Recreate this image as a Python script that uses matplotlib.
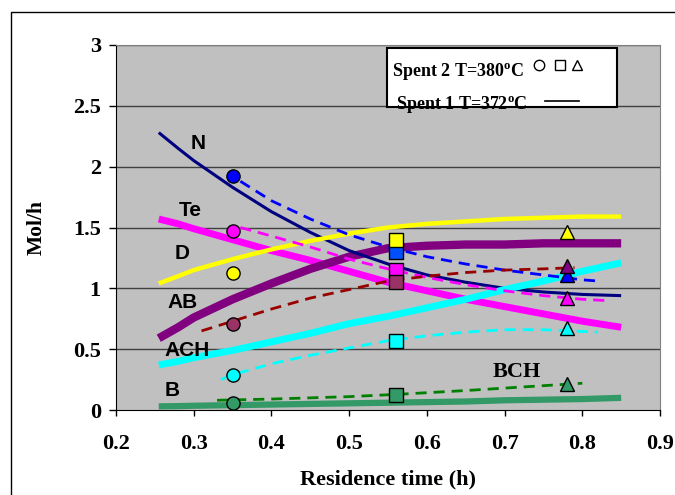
import matplotlib
matplotlib.use("Agg")
import matplotlib.pyplot as plt
from matplotlib.patches import Rectangle
import numpy as np

plt.rcParams['font.family'] = ['Liberation Serif', 'DejaVu Serif']
plt.rcParams['font.weight'] = 'bold'
plt.rcParams['mathtext.fontset'] = 'custom'
plt.rcParams['mathtext.rm'] = 'Liberation Serif'
plt.rcParams['mathtext.bf'] = 'Liberation Serif:bold'

# Spent 1 (T=372 C) model curves
t_fit = [0.255, 0.28, 0.3, 0.35, 0.4, 0.45, 0.5, 0.55, 0.6, 0.65, 0.7, 0.75, 0.8, 0.85]
N_fit = [2.28, 2.15, 2.05, 1.83, 1.63, 1.46, 1.31, 1.20, 1.11, 1.05, 1.00, 0.97, 0.95, 0.94]
Te_fit = [1.57, 1.53, 1.49, 1.40, 1.31, 1.23, 1.14, 1.05, 0.98, 0.91, 0.85, 0.79, 0.73, 0.68]
D_fit = [1.04, 1.10, 1.15, 1.24, 1.32, 1.39, 1.45, 1.50, 1.53, 1.55, 1.57, 1.58, 1.59, 1.59]
AB_fit = [0.59, 0.68, 0.76, 0.91, 1.04, 1.16, 1.26, 1.33, 1.35, 1.36, 1.36, 1.37, 1.37, 1.37]
ACH_fit = [0.37, 0.40, 0.43, 0.49, 0.56, 0.63, 0.71, 0.77, 0.84, 0.91, 0.99, 1.06, 1.14, 1.21]
B_fit = [0.03, 0.032, 0.035, 0.04, 0.045, 0.05, 0.055, 0.06, 0.065, 0.07, 0.08, 0.085, 0.09, 0.10]

# Spent 2 (T=380 C) measured points
t_pts = [0.35, 0.56, 0.78]
N_pts = [1.92, 1.30, 1.11]
Te_pts = [1.47, 1.15, 0.92]
D_pts = [1.13, 1.40, 1.46]
AB_pts = [0.71, 1.05, 1.18]
ACH_pts = [0.29, 0.57, 0.67]
B_pts = [0.06, 0.12, 0.21]

# Spent 2 trend lines (dashed)
N_tr_t = [0.36, 0.4, 0.45, 0.5, 0.55, 0.6, 0.65, 0.7, 0.75, 0.8, 0.82]
N_tr = [1.88, 1.72, 1.57, 1.44, 1.34, 1.26, 1.20, 1.15, 1.11, 1.07, 1.06]
Te_tr_t = [0.36, 0.4, 0.45, 0.5, 0.55, 0.6, 0.65, 0.7, 0.75, 0.8, 0.83]
Te_tr = [1.50, 1.43, 1.34, 1.24, 1.16, 1.09, 1.03, 0.98, 0.94, 0.91, 0.90]
AB_tr_t = [0.31, 0.35, 0.4, 0.45, 0.5, 0.55, 0.6, 0.65, 0.7, 0.75, 0.79]
AB_tr = [0.65, 0.73, 0.83, 0.92, 0.99, 1.06, 1.10, 1.13, 1.15, 1.16, 1.17]
ACH_tr_t = [0.335, 0.35, 0.4, 0.45, 0.5, 0.55, 0.6, 0.65, 0.7, 0.75, 0.82]
ACH_tr = [0.25, 0.29, 0.38, 0.45, 0.51, 0.57, 0.61, 0.64, 0.66, 0.66, 0.64]
BCH_tr_t = [0.33, 0.4, 0.5, 0.566, 0.65, 0.7, 0.8]
BCH_tr = [0.08, 0.09, 0.11, 0.13, 0.16, 0.18, 0.22]

xticks = [0.2, 0.3, 0.4, 0.5, 0.6, 0.7, 0.8, 0.9]
yticks = [0, 0.5, 1, 1.5, 2, 2.5, 3]
ylabels = ['0', '0.5', '1', '1.5', '2', '2.5', '3']

fig = plt.figure(figsize=(6.75, 4.95), dpi=100)
ax = fig.add_axes([0.1719, 0.1717, 0.8059, 0.7374])
ax.set_facecolor('#c0c0c0')

# outer chart border
fig.patches.append(Rectangle((0.0163, -0.1), 1.2, 1.0758, transform=fig.transFigure,
                             fill=False, edgecolor='black', lw=1.0))

for y in yticks[1:]:
    ax.axhline(y, color='#404040', lw=1.0, zorder=1)

# solid curves
ax.plot(t_fit, Te_fit, color='#ff00ff', lw=5, zorder=2, solid_capstyle='butt')
ax.plot(t_fit, N_fit, color='#000080', lw=2.2, zorder=3, solid_capstyle='butt')
ax.plot(t_fit, AB_fit, color='#800080', lw=6, zorder=2, solid_capstyle='butt')
ax.plot(t_fit, D_fit, color='#ffff00', lw=3.2, zorder=3, solid_capstyle='butt')
ax.plot(t_fit, ACH_fit, color='#00ffff', lw=5, zorder=3, solid_capstyle='butt')
ax.plot(t_fit, B_fit, color='#339966', lw=4.5, zorder=2, solid_capstyle='butt')

# dashed trends
dash = dict(lw=2, linestyle=(0, (4, 2.5)), zorder=4)
ax.plot(N_tr_t, N_tr, color='#0000ff', **dash)
ax.plot(Te_tr_t, Te_tr, color='#ff00ff', **dash)
ax.plot(AB_tr_t, AB_tr, color='#990000', **dash)
ax.plot(ACH_tr_t, ACH_tr, color='#00ffff', **dash)
ax.plot(BCH_tr_t, BCH_tr, color='#008000', **dash)

# markers
mk = ['o', 's', '^']
sets = [(N_pts, ['#0000ff', '#0050ff', '#0000ff']),
        (Te_pts, ['#ff00ff'] * 3),
        (D_pts, ['#ffff00'] * 3),
        (AB_pts, ['#993366', '#993366', '#800080']),
        (ACH_pts, ['#00ffff'] * 3),
        (B_pts, ['#339966'] * 3)]
for vals, cols in sets:
    for i in range(3):
        ax.plot(t_pts[i], vals[i], marker=mk[i], ms=9.5, mfc=cols[i], mec='black',
                mew=1.0, linestyle='none', zorder=5, clip_on=False)

# curve labels
lab = dict(family='Liberation Sans', fontweight='bold', fontsize=15, ha='center',
           va='center', zorder=6)
ax.text(0.305, 2.19, 'N', **lab)
ax.text(0.295, 1.64, 'Te', **lab)
ax.text(0.285, 1.29, 'D', **lab)
ax.text(0.286, 0.88, 'AB', **lab)
ax.text(0.291, 0.49, 'ACH', **lab)
ax.text(0.272, 0.16, 'B', **lab)
ax.text(0.716, 0.31, 'BCH', fontsize=16, fontweight='bold', ha='center', va='center')

# legend box
ax.add_patch(Rectangle((0.498, 0.830), 0.423, 0.162, transform=ax.transAxes,
                       facecolor='white', edgecolor='black', lw=1.5, zorder=7))
ax.text(0.507, 0.926, r'Spent 2 T=380$^{\mathbf{o}}$C', transform=ax.transAxes,
        fontsize=13, fontweight='bold', va='center', zorder=8)
ax.text(0.515, 0.836, r'Spent 1 T=372$^{\mathbf{o}}$C', transform=ax.transAxes,
        fontsize=13, fontweight='bold', va='center', zorder=8)
for xm, m in zip([0.778, 0.816, 0.847], mk):
    ax.plot(xm, 0.945, marker=m, ms=7.5, mfc='white', mec='black', mew=1.0,
            transform=ax.transAxes, zorder=8, clip_on=False)
ax.plot([0.789, 0.851], [0.847, 0.847], color='black', lw=1.2,
        transform=ax.transAxes, zorder=8)

ax.set_xlim(0.2, 0.9)
ax.set_ylim(0, 3)
ax.set_xticks(xticks)
ax.set_xticklabels([str(v) for v in xticks])
ax.set_yticks(yticks)
ax.set_yticklabels(ylabels)
ax.tick_params(axis='both', labelsize=16, direction='out', width=1, color='black')
ax.tick_params(axis='y', length=5, pad=6)
ax.tick_params(axis='x', length=4.5, pad=13)
for s in ['top', 'right']:
    ax.spines[s].set_color('#808080')
ax.spines['left'].set_color('black')
ax.spines['bottom'].set_color('black')

ax.set_xlabel('Residence time (h)', fontsize=16, fontweight='bold', labelpad=11)
ax.set_ylabel('Mol/h', fontsize=15.5, fontweight='bold')
ax.yaxis.set_label_coords(-0.127, 0.5)

fig.savefig('out.png', dpi=100)
